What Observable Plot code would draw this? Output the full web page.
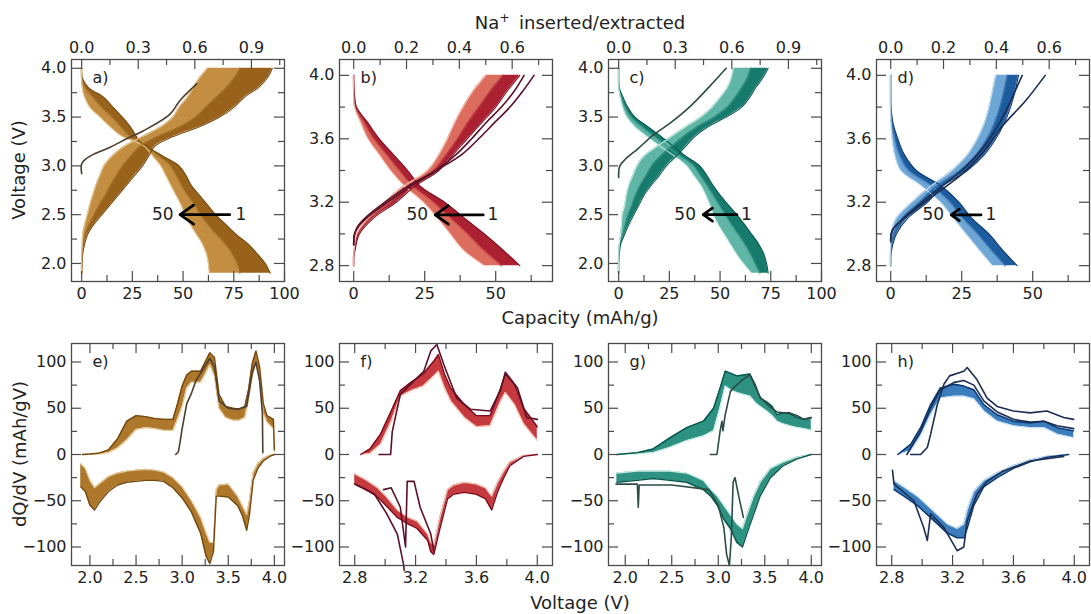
<!DOCTYPE html>
<html><head><meta charset="utf-8">
<script src="https://cdn.jsdelivr.net/npm/d3@7"></script>
<script src="https://cdn.jsdelivr.net/npm/@observablehq/plot@0.6"></script>
<style>
html,body{margin:0;padding:0;background:#fff;}
#fig{position:relative;width:1091px;height:614px;overflow:hidden;font-family:'DejaVu Sans',sans-serif;background:#fff;}
#fig .pn{position:absolute;}
#fig svg{max-width:none;}
</style></head><body><div id="fig"></div>
<script>
// ---------- secondary axis factor (mAh/g per Na) ----------
const NA = 93;

// ---------- tick values ----------
const capMajorA = [0, 25, 50, 75, 100], capMinorA = [12.5, 37.5, 62.5, 87.5];
const capMajorB = [0, 25, 50], capMinorB = [12.5, 37.5, 62.5];
const naMajorA = [0, 0.3, 0.6, 0.9], naMinorA = [0.15, 0.45, 0.75, 1.05];
const naMajorB = [0, 0.2, 0.4, 0.6], naMinorB = [0.1, 0.3, 0.5, 0.7];
const vMajorA = [2.0, 2.5, 3.0, 3.5, 4.0], vMinorA = [2.25, 2.75, 3.25, 3.75];
const vMajorB = [2.8, 3.2, 3.6, 4.0], vMinorB = [3.0, 3.4, 3.8];
const dqMajor = [-100, -50, 0, 50, 100], dqMinor = [-75, -25, 25, 75];

// ---------- panel a (capacity vs voltage) ----------
const aDisV   = [4.0, 3.9, 3.8, 3.7, 3.6, 3.5, 3.4, 3.3, 3.25, 3.2, 3.1, 3.0, 2.9, 2.8, 2.7, 2.6, 2.5, 2.4, 2.3, 2.2, 2.1, 2.0, 1.9];
const aDisC2  = [0, 0.3, 3.5, 11, 15.5, 20, 24, 27, 28.5, 32, 40, 48, 51.5, 54, 58, 62, 66, 71, 76, 82, 86.5, 90.5, 93];
const aDisMid = [0, 0.1, 1.5, 5.5, 9.5, 14.5, 19, 23.5, 27.3, 31.5, 37.5, 43.5, 46.5, 49, 52, 55.5, 58.5, 62, 66, 70.5, 74, 76.5, 78];
const aDisC50 = [0, 0, 0.3, 1.5, 4, 9, 14, 20, 26, 31, 35, 39, 41.5, 44, 46.5, 49, 51, 53.5, 56.5, 59.5, 61.5, 62.5, 63];
const aChgV   = [1.9, 2.0, 2.1, 2.2, 2.3, 2.4, 2.5, 2.6, 2.7, 2.8, 2.9, 3.0, 3.1, 3.2, 3.3, 3.4, 3.5, 3.6, 3.7, 3.8, 3.9, 4.0];
const aChgC2  = [0, 0.2, 0.5, 1.5, 3, 6, 10, 14, 18, 22, 26, 30, 33, 36, 45, 58, 68, 75, 80, 87, 91.5, 94];
const aChgMid = [0, 0.1, 0.3, 0.8, 1.6, 3.5, 6, 8.5, 11.5, 14, 17, 20, 24, 28.5, 37, 48, 56, 61, 66, 71, 75, 78];
const aChgC50 = [0, 0, 0.1, 0.3, 0.5, 1.5, 2.8, 4, 5.5, 7, 9, 11, 15, 21, 30, 39, 45, 48, 52, 55, 58, 62];
const aC1V = [2.92, 3.02, 3.07, 3.12, 3.19, 3.28, 3.36, 3.53, 3.67, 3.84];
const aC1Q = [0, 0, 2, 6, 14, 22.4, 30.5, 43.6, 48.5, 56.7];

// ---------- panel b ----------
const bChgV   = [2.8, 2.85, 2.9, 3.0, 3.1, 3.2, 3.3, 3.4, 3.5, 3.6, 3.7, 3.8, 3.9, 4.0];
const bChgC2  = [0, 0, 0.5, 2, 7, 15, 21.5, 30, 35, 40, 45, 50, 54, 58.5];
const bChgMid = [0, 0, 0.3, 1.5, 6, 13, 19.5, 28, 32.5, 36.5, 40, 44, 48, 52.5];
const bChgC50 = [0, 0, 0.2, 1, 5, 11, 17.5, 26, 30, 33, 35.5, 38.5, 42, 46.5];
const bDisV   = [4.0, 3.9, 3.8, 3.7, 3.6, 3.5, 3.4, 3.3, 3.2, 3.1, 3.0, 2.9, 2.8];
const bDisC2  = [0, 0.2, 1, 5, 9, 14, 19, 23.5, 32, 39, 46, 52.5, 58.5];
const bDisMid = [0, 0.1, 0.6, 3.7, 7, 11.5, 16, 20.8, 28, 34, 40, 45.5, 52];
const bDisC50 = [0, 0, 0.3, 2.5, 5, 9, 13, 18, 24.5, 29.5, 34, 38.5, 46];
const bC1V = [2.93, 3.0, 3.05, 3.1, 3.2, 3.3, 3.4, 3.5, 3.6, 3.7, 3.8, 3.9, 4.0];
const bC1Q = [0, 0.3, 1.5, 4, 11, 19, 29, 38, 44, 49.5, 55, 59.5, 63.5];
const bC2Q = [0, 0.3, 1.8, 4.5, 12, 20, 29, 36, 41.5, 46.5, 52, 56.5, 60];

// ---------- panel c ----------
const cChgV   = [1.9, 2.0, 2.1, 2.2, 2.3, 2.4, 2.5, 2.6, 2.7, 2.8, 2.9, 3.0, 3.1, 3.2, 3.3, 3.4, 3.5, 3.6, 3.7, 3.8, 3.9, 4.0];
const cChgC2  = [0, 0, 0.3, 1, 3, 5, 7.5, 10, 12.5, 16, 20, 23.5, 28.5, 33, 37.5, 44, 53, 60.5, 64.5, 67.5, 71, 73.7];
const cChgMid = [0, 0, 0.2, 0.6, 2, 3.2, 4.6, 6.5, 8.2, 10.5, 13.5, 16.2, 20.5, 26, 31.8, 38.5, 47, 53.3, 57.3, 60.5, 63.3, 65];
const cChgC50 = [0, 0, 0.1, 0.3, 1, 1.4, 1.8, 3, 3.8, 5, 7, 9, 12.5, 19, 26, 33, 40.5, 46, 50, 53.5, 55.5, 56.5];
const cDisV   = [4.0, 3.9, 3.8, 3.7, 3.6, 3.5, 3.4, 3.3, 3.2, 3.1, 3.0, 2.9, 2.8, 2.7, 2.6, 2.5, 2.4, 2.3, 2.2, 2.1, 2.0, 1.9];
const cDisC2  = [0, 0, 0.3, 2.2, 4.5, 8, 14.5, 21, 27, 33, 40, 43.5, 46.5, 50, 54, 58.2, 62, 65.5, 69, 71.5, 72.9, 73.7];
const cDisMid = [0, 0, 0.2, 1.5, 3.2, 6, 11.2, 17.5, 23.8, 30.2, 36.8, 40.2, 43.5, 46.5, 49.5, 52.5, 55.5, 58.8, 62, 64.8, 67.2, 69.6];
const cDisC50 = [0, 0, 0.1, 0.8, 2, 4, 8, 14, 20.5, 27.5, 33.5, 37, 40.5, 43, 45, 46.7, 49, 52, 55, 58, 61.4, 65.5];
const cC1V = [2.88, 3.0, 3.07, 3.17, 3.32, 3.44, 3.61, 3.82, 4.0];
const cC1Q = [0, 0.6, 3.4, 9.2, 17.3, 25.5, 35.3, 45.1, 53];

// ---------- panel d ----------
const dChgV   = [2.8, 2.85, 2.9, 3.0, 3.1, 3.2, 3.3, 3.4, 3.5, 3.6, 3.7, 3.8, 3.9, 4.0];
const dChgC2  = [0, 0, 0.3, 2, 6, 13, 18, 27, 33, 37, 40, 42.2, 43.8, 45];
const dChgMid = [0, 0, 0.1, 1, 4, 10, 16, 24.2, 30, 33.8, 36.5, 38.4, 39.8, 41];
const dChgC50 = [0, 0, 0, 0.2, 2, 7.5, 14, 21.5, 27, 30.5, 33, 34.6, 35.8, 37];
const dDisV   = [4.0, 3.9, 3.8, 3.7, 3.6, 3.5, 3.4, 3.3, 3.2, 3.1, 3.0, 2.9, 2.8];
const dDisC2  = [0, 0, 0.1, 0.8, 2.5, 4.8, 9, 18, 24, 28.5, 34.6, 39.3, 44.5];
const dDisMid = [0, 0, 0.05, 0.4, 1.4, 3, 6.2, 14.5, 20.8, 25.2, 30.5, 35.2, 40.2];
const dDisC50 = [0, 0, 0, 0.1, 0.5, 1.4, 3.5, 11, 17.5, 22, 26.5, 31.1, 35.8];
const dC1V = [2.96, 3.03, 3.11, 3.19, 3.27, 3.38, 3.51, 3.68, 3.84, 4.0];
const dC1Q = [0, 0.8, 5.5, 11.3, 17.2, 25.3, 32.3, 39.3, 47.5, 54.4];
const dC2V = [2.95, 3.02, 3.1, 3.2, 3.3, 3.4, 3.5, 3.6, 3.7, 3.8, 3.9, 4.0];
const dC2Q = [0, 0.5, 4.5, 11, 18, 25, 30.5, 34.8, 38.3, 41.2, 43.8, 46.3];

// ---------- panel e (dQ/dV) ----------
const eChgV   = [1.92, 2.0, 2.1, 2.2, 2.3, 2.4, 2.5, 2.6, 2.7, 2.8, 2.9, 2.95, 3.0, 3.05, 3.1, 3.2, 3.25, 3.3, 3.35, 3.4, 3.47, 3.55, 3.62, 3.68, 3.72, 3.76, 3.8, 3.84, 3.88, 3.92, 3.99, 4.0];
const eChgC2  = [0, 0.5, 1.5, 5, 17, 36, 42, 41, 39, 38, 38, 55, 74, 86, 90, 90, 100, 110, 105, 65, 52, 50, 49, 52, 70, 98, 112, 95, 55, 42, 38, 5];
const eChgC50 = [0, 0.2, 0.5, 2, 7, 16, 27, 29, 28, 26, 26, 38, 52, 72, 78, 78, 87, 97, 85, 50, 40, 37, 37, 40, 60, 85, 100, 80, 45, 35, 28, 3];
const eC1ChgV  = [2.93, 2.96, 2.98, 3.0, 3.05, 3.1, 3.15, 3.2, 3.3, 3.35, 3.4, 3.5, 3.6, 3.7, 3.76, 3.8, 3.84, 3.87, 3.875];
const eC1ChgDq = [0, 3, 15, 28, 55, 66, 80, 88, 104, 95, 58, 50, 49, 52, 88, 100, 80, 45, 2];
const eDisV   = [1.9, 1.95, 2.0, 2.05, 2.1, 2.2, 2.3, 2.4, 2.5, 2.6, 2.7, 2.8, 2.9, 3.0, 3.1, 3.2, 3.26, 3.3, 3.34, 3.37, 3.4, 3.5, 3.6, 3.65, 3.7, 3.73, 3.77, 3.82, 3.88, 3.95, 4.0];
const eDisC2  = [-35, -40, -55, -60, -52, -40, -33, -30, -29, -28, -28, -29, -36, -47, -62, -85, -110, -118, -105, -45, -45, -46, -55, -65, -82, -65, -28, -15, -7, -2, 0];
const eDisC50 = [-10, -15, -28, -36, -32, -24, -20, -18, -17, -16, -17, -19, -25, -35, -50, -68, -85, -95, -95, -38, -33, -32, -45, -55, -65, -50, -20, -10, -4, -1, 0];

// ---------- panel f ----------
const fChgV   = [2.84, 2.9, 2.97, 3.04, 3.1, 3.17, 3.25, 3.32, 3.35, 3.39, 3.43, 3.52, 3.6, 3.69, 3.76, 3.79, 3.85, 3.91, 4.0];
const fChgC2  = [0, 6, 22, 47, 69, 78, 87, 101, 108, 87, 72, 54, 42, 42, 72, 87, 76, 50, 30];
const fChgC50 = [0, 1, 11, 36, 63, 69, 74, 85, 90, 72, 58, 40, 30, 31, 58, 67, 54, 33, 15];
const fC1ChgV  = [2.96, 3.036, 3.047, 3.1, 3.254, 3.3, 3.34, 3.386, 3.47, 3.56, 3.69, 3.757, 3.79, 3.87, 3.93, 4.0];
const fC1ChgDq = [0, 0, 25, 65, 90, 112, 119, 97, 61, 49, 47, 69, 89, 72, 40, 38];
const fDisV   = [2.8, 2.88, 2.95, 3.01, 3.08, 3.15, 3.21, 3.28, 3.3, 3.32, 3.36, 3.41, 3.45, 3.52, 3.6, 3.66, 3.7, 3.74, 3.78, 3.82, 3.91, 4.0];
const fDisC2  = [-32, -38, -46, -56, -68, -75, -80, -93, -105, -108, -80, -48, -43, -41, -43, -48, -60, -40, -25, -12, -2, 0];
const fDisC50 = [-21, -28, -36, -46, -60, -68, -72, -86, -95, -98, -68, -38, -33, -30, -32, -36, -45, -30, -18, -8, -1, 0];
const fC1DisAV  = [2.8, 2.93, 3.01, 3.08, 3.12, 3.125];
const fC1DisADq = [-32, -43, -64, -86, -118, -125];
const fC1DisBV  = [2.99, 3.04, 3.1, 3.134, 3.145, 3.19, 3.23, 3.3, 3.32];
const fC1DisBDq = [-38, -36, -57, -100, -29, -29, -57, -86, -104];

// ---------- panel g ----------
const gChgV   = [1.91, 2.13, 2.3, 2.48, 2.66, 2.84, 2.95, 3.02, 3.075, 3.13, 3.2, 3.27, 3.34, 3.4, 3.45, 3.52, 3.58, 3.63, 3.7, 3.77, 3.85, 3.92, 4.0];
const gChgC2  = [0, 2, 6, 18, 29, 36, 50, 72, 90, 88, 85, 86, 87, 75, 61, 57, 52, 43, 45, 44, 40, 38, 40];
const gChgC50 = [0, 0.5, 2, 7.6, 15, 20, 25.6, 51, 74, 70, 67, 65, 63, 56, 52, 47, 42, 36, 33, 31, 29, 28, 26];
const gC1ChgV  = [2.914, 2.986, 3.02, 3.04, 3.05, 3.075, 3.13, 3.165, 3.25, 3.34, 3.45, 3.55, 3.63, 3.7, 3.77, 3.85, 3.92, 4.0];
const gC1ChgDq = [0, 0, 25.6, 36, 25.6, 43, 68, 72, 80, 86, 62, 52, 46, 45, 45, 42, 38, 40];
const gDisV   = [1.91, 2.13, 2.3, 2.48, 2.66, 2.84, 2.92, 2.99, 3.06, 3.13, 3.2, 3.26, 3.31, 3.38, 3.45, 3.56, 3.7, 3.84, 4.0];
const gDisC2  = [-30, -28, -26, -28, -30, -38, -45, -55, -70, -80, -95, -100, -85, -65, -45, -25, -12, -5, 0];
const gDisC50 = [-20, -18, -18, -18, -20, -28, -38, -45, -55, -65, -75, -80, -65, -45, -30, -15, -8, -3, 0];
const gC1DisV  = [1.9, 2.13, 2.14, 2.15, 2.5, 2.9, 2.95, 3.0, 3.06, 3.09, 3.12, 3.14, 3.16, 3.18, 3.22, 3.27];
const gC1DisDq = [-32, -32, -57, -33, -33, -38, -46, -55, -79, -108, -120, -90, -30, -25, -45, -68];

// ---------- panel h ----------
const hChgV   = [2.84, 2.925, 2.99, 3.056, 3.12, 3.21, 3.274, 3.34, 3.405, 3.493, 3.6, 3.71, 3.8, 3.887, 3.996];
const hChgC2  = [0, 11, 29, 54, 72, 76, 74, 70, 54, 43, 36, 34, 36, 29, 25.6];
const hChgC50 = [0, 4, 20, 43, 61, 63, 63, 60, 47, 36, 31, 29, 29, 22, 18];
const hC1ChgV  = [2.925, 2.99, 3.034, 3.056, 3.10, 3.143, 3.18, 3.274, 3.296, 3.36, 3.427, 3.493, 3.6, 3.71, 3.82, 3.93, 3.996];
const hC1ChgDq = [0, 0, 7.6, 22, 54, 76, 85, 90, 94, 81, 61, 52, 47, 45, 47, 40, 38];
const hC2ChgV  = [2.9, 2.99, 3.056, 3.12, 3.21, 3.274, 3.34, 3.405, 3.493, 3.6, 3.71, 3.8, 3.887, 3.996];
const hC2ChgDq = [0, 25, 50, 70, 78, 80, 75, 58, 46, 38, 35, 36, 31, 28];
const hDisV   = [2.815, 2.88, 2.968, 3.034, 3.10, 3.165, 3.23, 3.274, 3.296, 3.34, 3.405, 3.493, 3.6, 3.71, 3.82, 3.963];
const hDisC2  = [-38, -45, -55, -65, -75, -85, -90, -90, -80, -55, -35, -25, -15, -8, -3, 0];
const hDisC50 = [-28, -35, -45, -55, -65, -75, -80, -75, -60, -40, -28, -20, -12, -6, -2, 0];
const hC1DisV  = [2.805, 2.815, 2.946, 3.01, 3.034, 3.056, 3.143, 3.23, 3.274, 3.296, 3.36, 3.427, 3.53, 3.71, 3.93];
const hC1DisDq = [-17, -32, -50, -79, -93, -64, -79, -104, -100, -72, -43, -29, -18, -7, -2];

// ---------- cycle arrows (data units) ----------
const arrowTail = [73, 45.6, 58.3, 31.8];
const arrowTip  = [48.5, 28.7, 41.7, 21.3];
const arrowV    = [2.5, 3.12, 2.5, 3.12];
const label50Q  = [40, 22.4, 32.8, 15];
const label1Q   = [78.5, 49, 63, 35.3];

// ---------- styles ----------
const BROWN = {c1:"#4f3d2e", dark:"#74470d", strip1:"#98621a", strip2:"#c48e42", blend:"#ae7a2e", light:"#e6c896", fill:"#ad782c"};
const RED   = {c1:"#5b1026", dark:"#7d0b20", strip1:"#ab2131", strip2:"#dc6c5e", blend:"#c44648", light:"#f6c3b3", fill:"#c43a3e"};
const TEAL  = {c1:"#2d4c46", dark:"#06564c", strip1:"#167a6c", strip2:"#5fb5a6", blend:"#3a9889", light:"#c8ece4", fill:"#2e9282"};
const BLUE  = {c1:"#1b2d52", dark:"#0a356f", strip1:"#1d5c9e", strip2:"#6ea6d6", blend:"#4682bb", light:"#cae0f2", fill:"#3b7dbd"};
const AX = "#4a4a4a", TXT = "#222";
const W = 213, H = 222, ML = 50, MR = 8, MT = 34, MB = 30;
const fig = document.getElementById("fig");

const rowsQ = (v, c2, mid, c50) => v.map((vv, i) => ({v: vv, c2: c2[i], mid: mid[i], c50: c50[i]}));
const rowsD = (v, c2, c50) => v.map((vv, i) => ({v: vv, c2: c2[i], c50: c50[i]}));
const pts = (v, q) => v.map((vv, i) => ({v: vv, q: q[i]}));

function capMarks(bands, c1s, pal, k) {
  const m = [];
  for (const b of bands) {
    m.push(Plot.areaX(b, {y: "v", x1: "c2", x2: "mid", fill: pal.strip1, curve: "catmull-rom"}));
    m.push(Plot.areaX(b, {y: "v", x1: "mid", x2: "c50", fill: pal.strip2, curve: "catmull-rom"}));
  }
  for (const b of bands) {
    m.push(Plot.lineX(b, {x: "mid", y: "v", stroke: pal.blend, strokeWidth: 2, strokeOpacity: 0.6, curve: "catmull-rom"}));
    m.push(Plot.lineX(b, {x: "c2", y: "v", stroke: pal.dark, strokeWidth: 1.1, curve: "catmull-rom"}));
    m.push(Plot.lineX(b, {x: "c50", y: "v", stroke: pal.light, strokeWidth: 1.1, curve: "catmull-rom"}));
  }
  for (const c of c1s) m.push(Plot.lineX(c, {x: "q", y: "v", stroke: pal.c1, strokeWidth: 1.6, curve: "catmull-rom"}));
  m.push(Plot.arrow([{x1: arrowTail[k], x2: arrowTip[k], y: arrowV[k]}],
    {x1: "x1", x2: "x2", y1: "y", y2: "y", stroke: "#000", strokeWidth: 2.8, headLength: 10, headAngle: 70}));
  m.push(Plot.text([{x: label50Q[k], y: arrowV[k], t: "50"}, {x: label1Q[k], y: arrowV[k], t: "1"}],
    {x: "x", y: "y", text: "t", fontSize: 17, fill: TXT}));
  return m;
}
function dqMarks(bands, c1s, pal) {
  const m = [];
  for (const b of bands) m.push(Plot.areaY(b, {x: "v", y1: "c2", y2: "c50", fill: pal.fill}));
  for (const b of bands) {
    m.push(Plot.line(b, {x: "v", y: "c50", stroke: pal.light, strokeWidth: 1.3}));
    m.push(Plot.line(b, {x: "v", y: "c2", stroke: pal.dark, strokeWidth: 1.4}));
  }
  for (const c of c1s) m.push(Plot.line(c, {x: "v", y: "q", stroke: pal.c1, strokeWidth: 1.6}));
  return m;
}

function panel(cfg) {
  const tk = (arr, o) => Plot.tickX(arr, {x: d => d, stroke: AX, strokeWidth: 1.2, ...o});
  const tky = (arr, o) => Plot.tickY(arr, {y: d => d, stroke: AX, strokeWidth: 1.2, ...o});
  const marks = [
    ...cfg.marks,
    Plot.frame({stroke: AX, strokeWidth: 1.3}),
    tk(cfg.xMajor, {insetTop: H - 10}), tk(cfg.xMinor, {insetTop: H - 6}),
    tk(cfg.tMajor, {insetBottom: H - 10}), tk(cfg.tMinor, {insetBottom: H - 6}),
    tky(cfg.yMajor, {insetRight: W - 10}), tky(cfg.yMinor, {insetRight: W - 6}),
    tky(cfg.yMajor, {insetLeft: W - 10}), tky(cfg.yMinor, {insetLeft: W - 6}),
    Plot.axisX({anchor: "bottom", ticks: cfg.xMajor, tickSize: 0, tickPadding: 6, tickFormat: cfg.xFmt, label: null, fontSize: 16}),
    Plot.axisY({anchor: "left", ticks: cfg.yMajor, tickSize: 0, tickPadding: 5, tickFormat: cfg.yFmt, label: null, fontSize: 16}),
    cfg.tFmt ? Plot.axisX({anchor: "top", ticks: cfg.tMajor, tickSize: 0, tickPadding: 7, tickFormat: cfg.tFmt, label: null, fontSize: 16}) : null,
    Plot.text([cfg.tag], {text: d => d, frameAnchor: "top-left", dx: 21, dy: 12, fontSize: 16, textAnchor: "start", lineAnchor: "top", fill: TXT})
  ].filter(Boolean);
  const svg = Plot.plot({
    width: W + ML + MR, height: H + MT + MB,
    marginLeft: ML, marginRight: MR, marginTop: MT, marginBottom: MB,
    x: {domain: cfg.xDomain}, y: {domain: cfg.yDomain},
    style: {fontFamily: "'DejaVu Sans', sans-serif", fontSize: "16px", color: TXT, background: "transparent", overflow: "visible", maxWidth: "none"},
    marks
  });
  const div = document.createElement("div");
  div.className = "pn";
  div.style.left = (cfg.left - ML) + "px";
  div.style.top = (cfg.top - MT) + "px";
  div.appendChild(svg);
  fig.appendChild(div);
}

const f1 = d3.format(".1f"), fi = d3.format("d");
const naFmt = d => (d / NA).toFixed(1);
const lefts = [71, 339, 608, 876];
const topRow = [
  {tag: "a)", pal: BROWN, xDomain: [-5, 100], yDomain: [1.815, 4.09], xMajor: capMajorA, xMinor: capMinorA, na: naMajorA, naMin: naMinorA, yMajor: vMajorA, yMinor: vMinorA,
   bands: [rowsQ(aDisV, aDisC2, aDisMid, aDisC50), rowsQ(aChgV, aChgC2, aChgMid, aChgC50)], c1s: [pts(aC1V, aC1Q)]},
  {tag: "b)", pal: RED, xDomain: [-5, 70], yDomain: [2.7, 4.1], xMajor: capMajorB, xMinor: capMinorB, na: naMajorB, naMin: naMinorB, yMajor: vMajorB, yMinor: vMinorB,
   bands: [rowsQ(bDisV, bDisC2, bDisMid, bDisC50), rowsQ(bChgV, bChgC2, bChgMid, bChgC50)], c1s: [pts(bC1V, bC2Q), pts(bC1V, bC1Q)]},
  {tag: "c)", pal: TEAL, xDomain: [-5, 100], yDomain: [1.815, 4.09], xMajor: capMajorA, xMinor: capMinorA, na: naMajorA, naMin: naMinorA, yMajor: vMajorA, yMinor: vMinorA,
   bands: [rowsQ(cDisV, cDisC2, cDisMid, cDisC50), rowsQ(cChgV, cChgC2, cChgMid, cChgC50)], c1s: [pts(cC1V, cC1Q)]},
  {tag: "d)", pal: BLUE, xDomain: [-5, 70], yDomain: [2.7, 4.1], xMajor: capMajorB, xMinor: capMinorB, na: naMajorB, naMin: naMinorB, yMajor: vMajorB, yMinor: vMinorB,
   bands: [rowsQ(dDisV, dDisC2, dDisMid, dDisC50), rowsQ(dChgV, dChgC2, dChgMid, dChgC50)], c1s: [pts(dC2V, dC2Q), pts(dC1V, dC1Q)]}
];
topRow.forEach((p, k) => panel({
  left: lefts[k], top: 59, tag: p.tag, xDomain: p.xDomain, yDomain: p.yDomain,
  xMajor: p.xMajor, xMinor: p.xMinor, tMajor: p.na.map(n => n * NA), tMinor: p.naMin.map(n => n * NA),
  yMajor: p.yMajor, yMinor: p.yMinor, xFmt: fi, yFmt: f1, tFmt: naFmt,
  marks: capMarks(p.bands, p.c1s, p.pal, k)
}));

const vMajE = [2.0, 2.5, 3.0, 3.5, 4.0], vMinE = [2.25, 2.75, 3.25, 3.75];
const botRow = [
  {tag: "e)", pal: BROWN, xDomain: [1.8, 4.11], xMajor: vMajE, xMinor: vMinE,
   bands: [rowsD(eChgV, eChgC2, eChgC50), rowsD(eDisV, eDisC2, eDisC50)], c1s: [pts(eC1ChgV, eC1ChgDq)]},
  {tag: "f)", pal: RED, xDomain: [2.7, 4.1], xMajor: vMajorB, xMinor: vMinorB,
   bands: [rowsD(fChgV, fChgC2, fChgC50), rowsD(fDisV, fDisC2, fDisC50)], c1s: [pts(fC1ChgV, fC1ChgDq), pts(fC1DisAV, fC1DisADq), pts(fC1DisBV, fC1DisBDq)]},
  {tag: "g)", pal: TEAL, xDomain: [1.82, 4.11], xMajor: vMajE, xMinor: vMinE,
   bands: [rowsD(gChgV, gChgC2, gChgC50), rowsD(gDisV, gDisC2, gDisC50)], c1s: [pts(gC1ChgV, gC1ChgDq), pts(gC1DisV, gC1DisDq)]},
  {tag: "h)", pal: BLUE, xDomain: [2.7, 4.1], xMajor: vMajorB, xMinor: vMinorB,
   bands: [rowsD(hChgV, hChgC2, hChgC50), rowsD(hDisV, hDisC2, hDisC50)], c1s: [pts(hC2ChgV, hC2ChgDq), pts(hC1ChgV, hC1ChgDq), pts(hC1DisV, hC1DisDq)]}
];
botRow.forEach((p, k) => panel({
  left: lefts[k], top: 343, tag: p.tag, xDomain: p.xDomain, yDomain: [-120, 120],
  xMajor: p.xMajor, xMinor: p.xMinor, tMajor: p.xMajor, tMinor: p.xMinor,
  yMajor: dqMajor, yMinor: dqMinor, xFmt: f1, yFmt: fi, tFmt: null,
  marks: dqMarks(p.bands, p.c1s, p.pal)
}));

// ---------- figure-level labels ----------
const ov = d3.create("svg").attr("width", 1091).attr("height", 614)
  .style("position", "absolute").style("left", "0px").style("top", "0px")
  .attr("font-family", "'DejaVu Sans', sans-serif").attr("font-size", 18).attr("fill", TXT);
const t1 = ov.append("text").attr("x", 580).attr("y", 29).attr("text-anchor", "middle");
t1.append("tspan").text("Na");
t1.append("tspan").attr("dy", -7).attr("font-size", 12.5).text("+");
t1.append("tspan").attr("dy", 7).text("\u2009 inserted/extracted");
ov.append("text").attr("x", 580).attr("y", 324).attr("text-anchor", "middle").text("Capacity (mAh/g)");
ov.append("text").attr("x", 580).attr("y", 609).attr("text-anchor", "middle").text("Voltage (V)");
ov.append("text").attr("transform", "translate(25,170) rotate(-90)").attr("text-anchor", "middle").text("Voltage (V)");
ov.append("text").attr("transform", "translate(25.5,454) rotate(-90)").attr("text-anchor", "middle").text("dQ/dV (mAh/gV)");
fig.insertBefore(ov.node(), fig.firstChild);
</script></body></html>
